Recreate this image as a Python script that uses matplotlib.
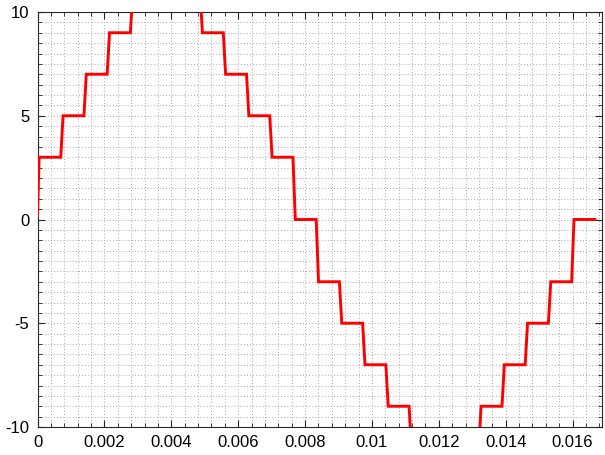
import numpy as np
import matplotlib.pyplot as plt
from matplotlib.ticker import MultipleLocator

# sample-and-hold staircase: one level per sample period
sample_period = 1.0 / 1440
start_level = 0.2
levels = [3, 5, 7, 9, 11, 11, 11, 9, 7, 5, 3, 0,
          -3, -5, -7, -9, -11, -11, -11, -9, -7, -5, -3, 0]
x_ticks = [0, 0.002, 0.004, 0.006, 0.008, 0.01, 0.012, 0.014, 0.016]
x_tick_labels = ["0", "0.002", "0.004", "0.006", "0.008", "0.01", "0.012", "0.014", "0.016"]
y_ticks = [-10, -5, 0, 5, 10]
y_tick_labels = ["-10", "-5", "0", "5", "10"]

ramp = 0.00007
xs, ys = [0.0], [start_level]
prev = start_level
for k, lv in enumerate(levels):
    t0 = k * sample_period
    if lv != prev:
        xs += [t0, t0 + ramp] if k > 0 else [t0 + ramp * 0.7]
        ys += [prev, lv] if k > 0 else [lv]
    prev = lv
xs.append(len(levels) * sample_period)
ys.append(levels[-1])

plt.rcParams["font.family"] = ["Liberation Sans", "DejaVu Sans"]
plt.rcParams["axes.unicode_minus"] = False
fig = plt.figure(figsize=(6.05, 4.55), dpi=100)
ax = fig.add_axes([37.5 / 605, 1 - 427 / 455, (602 - 37.5) / 605, (427 - 12) / 455])

ax.plot(xs, ys, color="#ff0000", lw=2.1, solid_joinstyle="miter", zorder=3)

ax.set_xlim(0, 0.01688)
ax.set_ylim(-10, 10)
ax.set_xticks(x_ticks)
ax.set_xticklabels(x_tick_labels)
ax.set_yticks(y_ticks)
ax.set_yticklabels(y_tick_labels)
ax.xaxis.set_minor_locator(MultipleLocator(0.0004))
ax.yaxis.set_minor_locator(MultipleLocator(0.5))

ax.grid(which="both", color="#a8a8a8", linestyle=(0, (1, 2.2)), linewidth=0.7)
ax.tick_params(which="both", direction="in", top=True, right=True,
               colors="#262626", labelcolor="black", labelsize=12)
ax.tick_params(which="major", length=5, width=0.8, pad=6)
ax.tick_params(which="minor", length=3, width=0.6)
for s in ax.spines.values():
    s.set_color("#262626")
    s.set_linewidth(0.8)

fig.savefig("out.png", dpi=100)
